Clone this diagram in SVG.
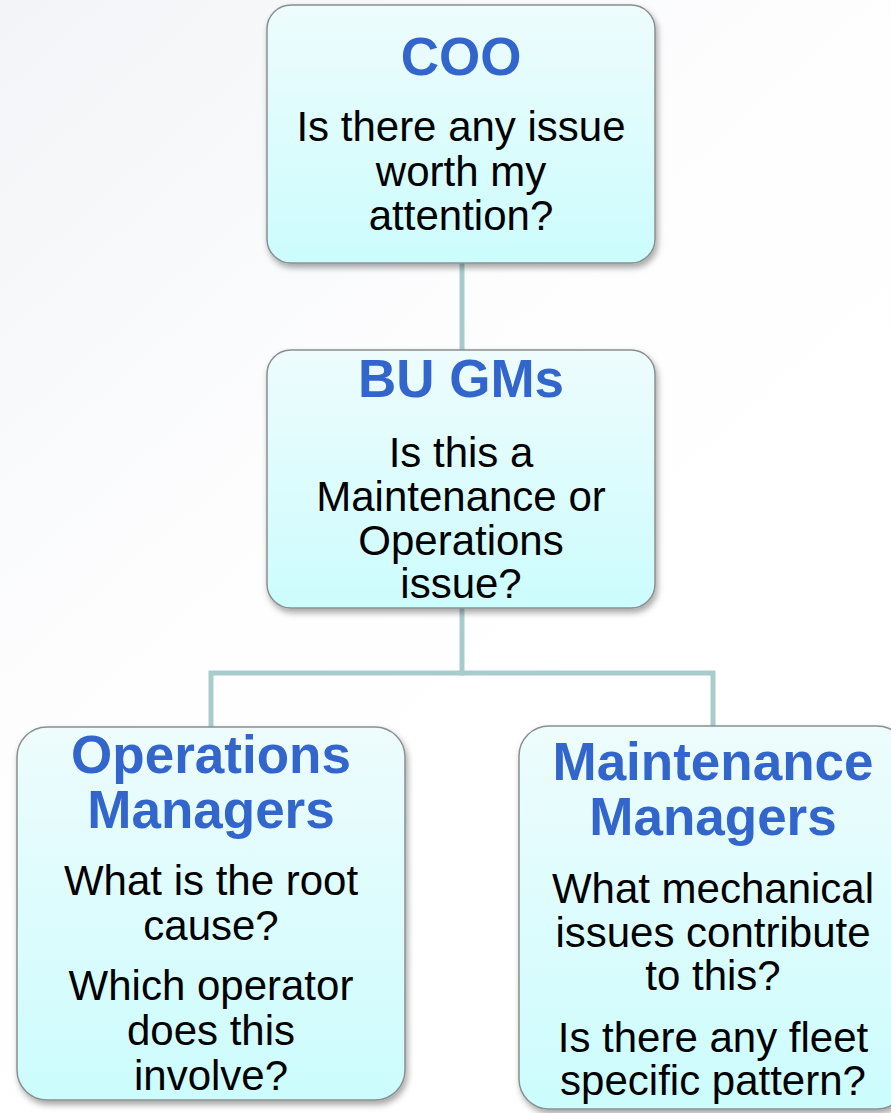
<svg xmlns="http://www.w3.org/2000/svg" width="891" height="1113" viewBox="0 0 891 1113">
  <defs>
    <linearGradient id="bg" x1="0" y1="0" x2="0.5" y2="0.7">
      <stop offset="0" stop-color="#f2f4f7"/>
      <stop offset="0.6" stop-color="#fdfdfe"/>
      <stop offset="1" stop-color="#ffffff"/>
    </linearGradient>
    <linearGradient id="boxfill" x1="0" y1="0" x2="0" y2="1">
      <stop offset="0" stop-color="#eefcfd"/>
      <stop offset="1" stop-color="#ccfcfd"/>
    </linearGradient>
    <filter id="shadow" x="-10%" y="-10%" width="125%" height="125%">
      <feDropShadow dx="2" dy="4" stdDeviation="3" flood-color="#000" flood-opacity="0.35"/>
    </filter>
    <style>
      .box { fill: url(#boxfill); stroke: #8a8f90; stroke-width: 1.5; filter: url(#shadow); }
      .title { font-family: "Liberation Sans", Arial, sans-serif; font-weight: bold; font-size: 53px; fill: #3366cc; text-anchor: middle; }
      .body { font-family: "Liberation Sans", Arial, sans-serif; font-size: 42px; fill: #000; text-anchor: middle; }
      .conn { fill: none; stroke: #a8cccc; stroke-width: 5; stroke-linecap: square; }
    </style>
  </defs>

  <rect x="0" y="0" width="891" height="1113" fill="url(#bg)"/>

  <g id="connectors">
    <line class="conn" x1="462" y1="265" x2="462" y2="349"/>
    <polyline class="conn" points="462,610 462,673"/>
    <polyline class="conn" points="211,726 211,673 713,673 713,725"/>
  </g>

  <g id="node-coo">
    <rect class="box" x="267" y="5" width="388" height="258" rx="24" ry="24"/>
    <text class="title" x="461" y="75">COO</text>
    <text class="body" x="461" y="141">Is there any issue</text>
    <text class="body" x="461" y="186">worth my</text>
    <text class="body" x="461" y="230">attention?</text>
  </g>

  <g id="node-bugms">
    <rect class="box" x="267" y="350" width="388" height="258" rx="24" ry="24"/>
    <text class="title" x="461" y="397">BU GMs</text>
    <text class="body" x="461" y="467">Is this a</text>
    <text class="body" x="461" y="511">Maintenance or</text>
    <text class="body" x="461" y="555">Operations</text>
    <text class="body" x="461" y="598">issue?</text>
  </g>

  <g id="node-ops">
    <rect class="box" x="17" y="727" width="388" height="373" rx="30" ry="30"/>
    <text class="title" x="211" y="773">Operations</text>
    <text class="title" x="211" y="828">Managers</text>
    <text class="body" x="211" y="895">What is the root</text>
    <text class="body" x="211" y="940">cause?</text>
    <text class="body" x="211" y="1000">Which operator</text>
    <text class="body" x="211" y="1045">does this</text>
    <text class="body" x="211" y="1090">involve?</text>
  </g>

  <g id="node-maint">
    <rect class="box" x="519" y="726" width="388" height="383" rx="30" ry="30"/>
    <text class="title" x="713" y="780">Maintenance</text>
    <text class="title" x="713" y="835">Managers</text>
    <text class="body" x="713" y="903">What mechanical</text>
    <text class="body" x="713" y="947">issues contribute</text>
    <text class="body" x="713" y="990">to this?</text>
    <text class="body" x="713" y="1052">Is there any fleet</text>
    <text class="body" x="713" y="1095">specific pattern?</text>
  </g>
</svg>
